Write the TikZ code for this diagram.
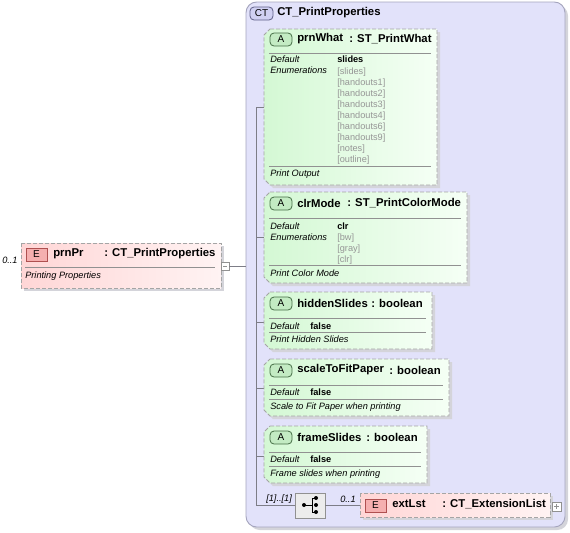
\documentclass[tikz,border=0pt]{standalone}
\usepackage{fontspec}
\setmainfont{Liberation Sans}
\usetikzlibrary{positioning}

\definecolor{ctfill}{RGB}{226,226,250}
\definecolor{ctline}{RGB}{165,165,190}
\definecolor{ctbadge}{RGB}{208,208,242}
\definecolor{ctbadgeline}{RGB}{95,95,135}
\definecolor{elemtop}{RGB}{255,214,214}
\definecolor{elemlow}{RGB}{255,243,243}
\definecolor{elembadge}{RGB}{245,175,175}
\definecolor{elembadgeline}{RGB}{175,80,80}
\definecolor{attrtop}{RGB}{212,248,212}
\definecolor{attrlow}{RGB}{245,255,245}
\definecolor{attrbadge}{RGB}{195,235,195}
\definecolor{attrbadgeline}{RGB}{70,110,70}
\definecolor{dashgray}{RGB}{165,165,165}
\definecolor{rulegray}{RGB}{145,145,145}
\definecolor{shadowgray}{RGB}{212,212,218}
\definecolor{enumgray}{RGB}{150,150,150}
\definecolor{linkgray}{RGB}{125,125,135}
\definecolor{seqfill}{RGB}{236,236,236}

\newcommand{\hdr}{\fontsize{8.5}{10}\selectfont\bfseries}
\newcommand{\sml}{\fontsize{6.9}{8.25}\selectfont}

\begin{document}
\begin{tikzpicture}[x=0.75pt,y=0.75pt,yscale=-1,xscale=1,
    dashedbox/.style={draw=dashgray, dash pattern={on 3pt off 1.5pt}, line width=0.7pt},
    elemfill/.style={left color=elemtop, right color=elemlow},
    attrfill/.style={left color=attrtop, right color=attrlow},
    boxshadow/.style={fill=shadowgray},
    sepline/.style={draw=rulegray, line width=0.5pt},
    conn/.style={draw=linkgray, line width=0.5pt},
    ebadge/.style={draw=elembadgeline, fill=elembadge, line width=0.6pt},
    abadge/.style={draw=attrbadgeline, fill=attrbadge, line width=0.6pt, rounded corners=3pt},
    txt/.style={anchor=west, inner sep=0pt},
    enumlist/.style={anchor=north west, inner sep=0pt, align=left, text=enumgray, font=\sml}]
    \useasboundingbox (0,0) rectangle (570,532);

    %Shape: Complex Type frame
    \fill [boxshadow, rounded corners=8pt] (249,5) rectangle (568,530) ;
    \draw [draw=ctline, fill=ctfill, line width=0.7pt, rounded corners=8pt] (246,2) rectangle (565,527) ;
    \draw [draw=ctbadgeline, fill=ctbadge, line width=0.6pt, rounded corners=3pt] (250,7) rectangle (273,20) ;
    % Text Node
    \draw (261.5,13.5) node [inner sep=0pt] (ctBadge) {\fontsize{7.5}{8}\selectfont CT};
    % Text Node
    \draw (277,13) node [txt] (ctTitle) {\hdr CT\_PrintProperties};

    %Shape: prnPr element
    \fill [boxshadow] (24,246) rectangle (224,291) ;
    \draw [dashedbox, elemfill] (21,243) rectangle (221,288) ;
    \draw [ebadge] (26,248) rectangle (47,261) ;
    \draw (36.5,254.5) node [inner sep=0pt] (prnPrE) {\fontsize{7.5}{8}\selectfont E};
    \draw (53,254) node [txt] (prnPrName) {\hdr prnPr};
    \draw (104,254) node [txt] (prnPrType) {\hdr : CT\_PrintProperties};
    \draw [sepline] (25,267) -- (215,267) ;
    \draw (25,276) node [txt] (prnPrDoc) {\sml\itshape Printing Properties};
    \draw (2,260) node [txt] (prnPrOcc) {\sml\itshape 0..1};
    %Shape: collapse button
    \draw [draw=rulegray, fill=white, line width=0.5pt] (221,262) rectangle (229,270) ;
    \draw [draw=rulegray, line width=0.5pt] (223,266) -- (227,266) ;
    \coordinate (prnPrOut) at (229,266);
    \coordinate (ctIn) at (246,266);
    \draw [conn] (prnPrOut) -- (ctIn) ;

    %Straight Lines: spine
    \coordinate (spineTop) at (256,107);
    \coordinate (spineClr) at (256,237);
    \coordinate (spineHid) at (256,322);
    \coordinate (spineScl) at (256,388);
    \coordinate (spineFrm) at (256,456);
    \coordinate (spineBot) at (256,505);
    \coordinate (prnWhatW) at (264,107);
    \coordinate (clrModeW) at (264,237);
    \coordinate (hiddenSlidesW) at (264,322);
    \coordinate (scaleToFitPaperW) at (264,388);
    \coordinate (frameSlidesW) at (264,456);
    \draw [conn] (spineTop) -- (spineBot) ;
    \draw [conn] (spineTop) -- (prnWhatW) ;
    \draw [conn] (spineClr) -- (clrModeW) ;
    \draw [conn] (spineHid) -- (hiddenSlidesW) ;
    \draw [conn] (spineScl) -- (scaleToFitPaperW) ;
    \draw [conn] (spineFrm) -- (frameSlidesW) ;

    %Shape: prnWhat attribute
    \fill [boxshadow] (273,32) -- (440,32) -- (440,188) -- (273,188) -- (267,182) -- (267,38) -- cycle ;
    \draw [dashedbox, attrfill] (270,29) -- (437,29) -- (437,185) -- (270,185) -- (264,179) -- (264,35) -- cycle ;
    \draw [abadge] (270,33) rectangle (292,46) ;
    \draw (281,39.5) node [inner sep=0pt] (prnWhatA) {\fontsize{7.5}{8}\selectfont A};
    \draw (297,39) node [txt] (prnWhatName) {\hdr prnWhat};
    \draw (349,39) node [txt] (prnWhatType) {\hdr : ST\_PrintWhat};
    \draw [sepline] (269,53) -- (431,53) ;
    \draw (270,59) node [txt] (prnWhatDef) {\sml\itshape Default};
    \draw (337,59) node [txt] (prnWhatDefVal) {\sml\bfseries slides};
    \draw (270,70) node [txt] (prnWhatEnum) {\sml\itshape Enumerations};
    \draw (337,67.5) node [enumlist] (prnWhatEnumVal) {[slides]\\{}[handouts1]\\{}[handouts2]\\{}[handouts3]\\{}[handouts4]\\{}[handouts6]\\{}[handouts9]\\{}[notes]\\{}[outline]};
    \draw [sepline] (269,166) -- (431,166) ;
    \draw (270,174) node [txt] (prnWhatDoc) {\sml\itshape Print Output};

    %Shape: clrMode attribute
    \fill [boxshadow] (273,195) -- (470,195) -- (470,286) -- (273,286) -- (267,280) -- (267,201) -- cycle ;
    \draw [dashedbox, attrfill] (270,192) -- (467,192) -- (467,283) -- (270,283) -- (264,277) -- (264,198) -- cycle ;
    \draw [abadge] (270,197) rectangle (292,210) ;
    \draw (281,203.5) node [inner sep=0pt] (clrModeA) {\fontsize{7.5}{8}\selectfont A};
    \draw (297,203) node [txt] (clrModeName) {\hdr clrMode};
    \draw (347,203) node [txt] (clrModeType) {\hdr : ST\_PrintColorMode};
    \draw [sepline] (269,218) -- (461,218) ;
    \draw (270,226) node [txt] (clrModeDef) {\sml\itshape Default};
    \draw (337,226) node [txt] (clrModeDefVal) {\sml\bfseries clr};
    \draw (270,237) node [txt] (clrModeEnum) {\sml\itshape Enumerations};
    \draw (337,233.5) node [enumlist] (clrModeEnumVal) {[bw]\\{}[gray]\\{}[clr]};
    \draw [sepline] (269,265) -- (461,265) ;
    \draw (270,273) node [txt] (clrModeDoc) {\sml\itshape Print Color Mode};

    %Shape: hiddenSlides attribute
    \fill [boxshadow] (273,295) -- (435,295) -- (435,352) -- (273,352) -- (267,346) -- (267,301) -- cycle ;
    \draw [dashedbox, attrfill] (270,292) -- (432,292) -- (432,349) -- (270,349) -- (264,343) -- (264,298) -- cycle ;
    \draw [abadge] (270,297) rectangle (292,310) ;
    \draw (281,303.5) node [inner sep=0pt] (hiddenSlidesA) {\fontsize{7.5}{8}\selectfont A};
    \draw (297,303) node [txt] (hiddenSlidesName) {\hdr hiddenSlides};
    \draw (371,303) node [txt] (hiddenSlidesType) {\hdr : boolean};
    \draw [sepline] (269,318) -- (426,318) ;
    \draw (270,326) node [txt] (hiddenSlidesDef) {\sml\itshape Default};
    \draw (310,326) node [txt] (hiddenSlidesDefVal) {\sml\bfseries false};
    \draw [sepline] (269,332) -- (426,332) ;
    \draw (270,339) node [txt] (hiddenSlidesDoc) {\sml\itshape Print Hidden Slides};

    %Shape: scaleToFitPaper attribute
    \fill [boxshadow] (273,362) -- (452,362) -- (452,419) -- (273,419) -- (267,413) -- (267,368) -- cycle ;
    \draw [dashedbox, attrfill] (270,359) -- (449,359) -- (449,416) -- (270,416) -- (264,410) -- (264,365) -- cycle ;
    \draw [abadge] (270,364) rectangle (292,377) ;
    \draw (281,370.5) node [inner sep=0pt] (scaleToFitPaperA) {\fontsize{7.5}{8}\selectfont A};
    \draw (297,370) node [txt] (scaleToFitPaperName) {\hdr scaleToFitPaper};
    \draw (389,370) node [txt] (scaleToFitPaperType) {\hdr : boolean};
    \draw [sepline] (269,385) -- (443,385) ;
    \draw (270,392) node [txt] (scaleToFitPaperDef) {\sml\itshape Default};
    \draw (310,392) node [txt] (scaleToFitPaperDefVal) {\sml\bfseries false};
    \draw [sepline] (269,399) -- (443,399) ;
    \draw (270,407) node [txt] (scaleToFitPaperDoc) {\sml\itshape Scale to Fit Paper when printing};

    %Shape: frameSlides attribute
    \fill [boxshadow] (273,429) -- (430,429) -- (430,486) -- (273,486) -- (267,480) -- (267,435) -- cycle ;
    \draw [dashedbox, attrfill] (270,426) -- (427,426) -- (427,483) -- (270,483) -- (264,477) -- (264,432) -- cycle ;
    \draw [abadge] (270,431) rectangle (292,444) ;
    \draw (281,437.5) node [inner sep=0pt] (frameSlidesA) {\fontsize{7.5}{8}\selectfont A};
    \draw (297,437) node [txt] (frameSlidesName) {\hdr frameSlides};
    \draw (366,437) node [txt] (frameSlidesType) {\hdr : boolean};
    \draw [sepline] (269,452) -- (421,452) ;
    \draw (270,459) node [txt] (frameSlidesDef) {\sml\itshape Default};
    \draw (310,459) node [txt] (frameSlidesDefVal) {\sml\bfseries false};
    \draw [sepline] (269,466) -- (421,466) ;
    \draw (270,474) node [txt] (frameSlidesDoc) {\sml\itshape Frame slides when printing};

    %Shape: sequence
    \draw [draw=rulegray, fill=seqfill, line width=0.6pt] (295,493) rectangle (325,518) ;
    \coordinate (seqIn) at (295,505);
    \coordinate (seqOut) at (325,505);
    \draw [conn] (spineBot) -- (seqIn) ;
    \draw [line width=0.6pt] (304,505) -- (312,505) (312,498) -- (312,512) (312,498) -- (316,498) (312,512) -- (316,512) ;
    \fill (304,505) circle (2) (316,498) circle (2) (316,505) circle (2) (316,512) circle (2) ;
    \draw (266,499) node [txt] (seqOcc) {\sml\itshape [1]..[1]};

    %Shape: extLst element
    \fill [boxshadow] (363,496) rectangle (553,520) ;
    \draw [dashedbox, elemfill] (360,493) rectangle (550,517) ;
    \coordinate (extLstW) at (360,505);
    \draw [conn] (seqOut) -- (extLstW) ;
    \draw [ebadge] (365,499) rectangle (386,512) ;
    \draw (375.5,505.5) node [inner sep=0pt] (extLstE) {\fontsize{7.5}{8}\selectfont E};
    \draw (392,504) node [txt] (extLstName) {\hdr extLst};
    \draw (442,504) node [txt] (extLstType) {\hdr : CT\_ExtensionList};
    \draw (340,499) node [txt] (extLstOcc) {\sml\itshape 0..1};
    %Shape: expand button
    \draw [draw=rulegray, fill=white, line width=0.5pt] (552,502) rectangle (561,511) ;
    \draw [draw=rulegray, line width=0.5pt] (554,506.5) -- (559,506.5) (556.5,504) -- (556.5,509) ;

\end{tikzpicture}
\end{document}
